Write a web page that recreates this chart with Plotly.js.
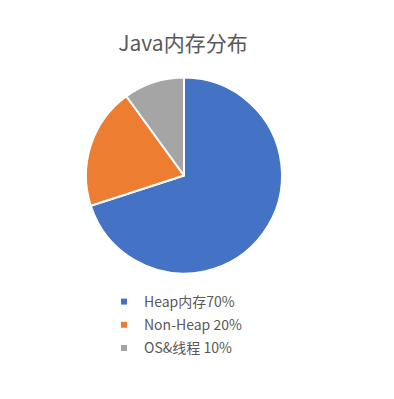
<!DOCTYPE html>
<html>
<head>
<meta charset="utf-8">
<script src="https://cdn.plot.ly/plotly-3.0.1.min.js"></script>
<style>html,body{margin:0;padding:0;background:#fff;}#chart{width:394px;height:399px;}</style>
</head>
<body>
<div id="chart"></div>
<script>
var categories = ["Heap内存", "Non-Heap", "OS&线程"];
var values = [70, 20, 10];
var legendLabels = ["Heap内存70%", "Non-Heap 20%", "OS&线程 10%"];
var colors = ["#4472C4", "#ED7D31", "#A5A5A5"];

var font = "'Noto Sans CJK SC', 'Microsoft YaHei', sans-serif";

var traces = [{
  type: "pie",
  labels: categories,
  values: values,
  sort: false,
  direction: "clockwise",
  rotation: 0,
  textinfo: "none",
  hoverinfo: "label+value",
  marker: {colors: colors, line: {color: "#ffffff", width: 2}},
  showlegend: false,
  domain: {x: [86/394, 282/394], y: [1 - 274/399, 1 - 77/399]}
}];

for (var i = 0; i < legendLabels.length; i++) {
  traces.push({
    type: "scatter",
    mode: "markers",
    x: [null], y: [null],
    name: legendLabels[i],
    legendgroup: "g" + i,
    marker: {symbol: "square", size: 6, color: colors[i]},
    showlegend: true,
    hoverinfo: "skip"
  });
}

var layout = {
  width: 394, height: 399,
  margin: {l: 0, r: 0, t: 0, b: 0},
  paper_bgcolor: "#ffffff",
  plot_bgcolor: "#ffffff",
  title: {
    text: "Java内存分布",
    font: {family: font, size: 21, color: "#595959"},
    x: 183/394, xanchor: "center",
    y: 1 - 44/399, yanchor: "middle"
  },
  xaxis: {visible: false},
  yaxis: {visible: false},
  legend: {
    x: 104/394, xanchor: "left",
    y: 1 - 286/399, yanchor: "top",
    font: {family: font, size: 14, color: "#595959"},
    tracegroupgap: 2,
    itemwidth: 30,
    bgcolor: "rgba(0,0,0,0)"
  },
  showlegend: true
};

Plotly.newPlot("chart", traces, layout, {displayModeBar: false, staticPlot: true});
</script>
</body>
</html>
